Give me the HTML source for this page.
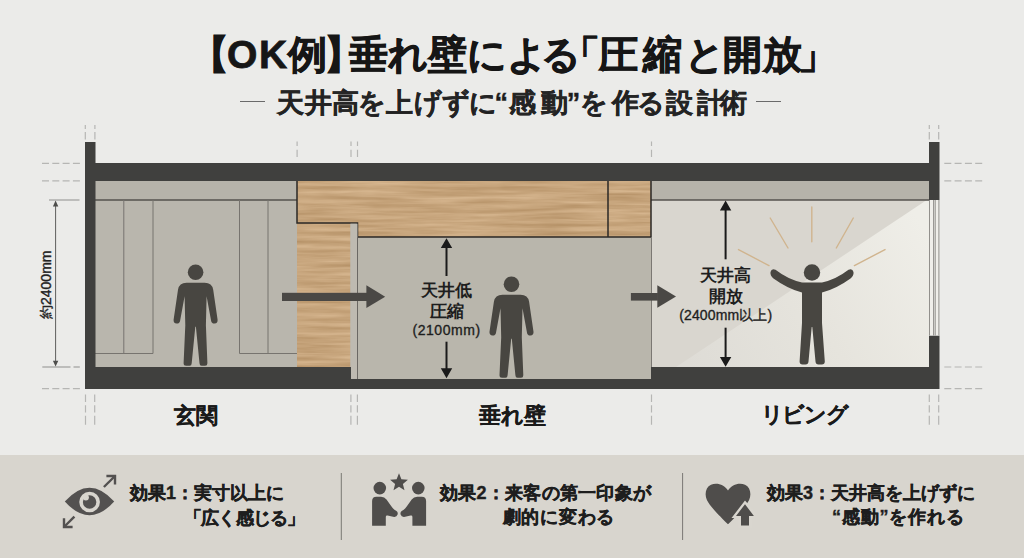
<!DOCTYPE html>
<html lang="ja">
<head>
<meta charset="utf-8">
<style>
html,body{margin:0;padding:0;}
body{width:1024px;height:558px;overflow:hidden;position:relative;background:#ebebe9;font-family:"Liberation Sans",sans-serif;color:#1c1c1c;}
.t{position:absolute;white-space:nowrap;font-weight:bold;line-height:1;}
#title{left:0;width:1024px;top:35px;font-size:39px;height:39px;color:#161616;-webkit-text-stroke:0.8px #161616;}
#title span,#subt span{position:absolute;top:0;}
#sub{left:0;width:1024px;text-align:center;top:93px;font-size:21px;color:#262626;}
svg{position:absolute;left:0;top:0;}
#panel{position:absolute;left:0;top:455px;width:1024px;height:103px;background:#d8d5ce;}
.lbl{font-size:23px;color:#1a1a1a;-webkit-text-stroke:0.25px #1a1a1a;}
.eff{font-size:18px;color:#1e1e1e;-webkit-text-stroke:0.4px #1e1e1e;}
.dim{font-size:17px;color:#1e1e1e;text-align:center;}
.dims{font-size:14px;color:#1e1e1e;text-align:center;font-weight:normal;-webkit-text-stroke:0.35px #1e1e1e;}
</style>
</head>
<body>
<div class="t" id="title"><span style="left:189.6px">【</span><span style="left:227.0px">O</span><span style="left:259.1px">K</span><span style="left:287.8px">例</span><span style="left:324.4px">】</span><span style="left:348.6px">垂</span><span style="left:388.4px">れ</span><span style="left:428.1px">壁</span><span style="left:467.0px">に</span><span style="left:507.2px">よ</span><span style="left:540.7px">る</span><span style="left:560.5px">「</span><span style="left:598.8px">圧</span><span style="left:642.7px">縮</span><span style="left:684.5px">と</span><span style="left:722.8px">開</span><span style="left:762.5px">放</span><span style="left:797.5px">」</span>&nbsp;</div>
<div id="subd1" style="position:absolute;left:240px;top:101px;width:25px;height:1.3px;background:#6a6a6a"></div>
<div id="subd2" style="position:absolute;left:756px;top:101px;width:25px;height:1.3px;background:#6a6a6a"></div>
<div class="t" id="subt" style="left:0;top:90px;font-size:27px;-webkit-text-stroke:0.4px #262626;width:1024px;height:27px;"><span style="left:276.6px">天</span><span style="left:304.7px">井</span><span style="left:331.5px">高</span><span style="left:357.6px">を</span><span style="left:385.5px">上</span><span style="left:414.2px">げ</span><span style="left:441.5px">ず</span><span style="left:468.6px">に</span><span style="left:494.4px">“</span><span style="left:508.7px">感</span><span style="left:541.0px">動</span><span style="left:566.8px">”</span><span style="left:580.4px">を</span><span style="left:611.8px">作</span><span style="left:637.0px">る</span><span style="left:665.5px">設</span><span style="left:696.7px">計</span><span style="left:720.2px">術</span></div>

<svg width="1024" height="558" viewBox="0 0 1024 558">
  <!-- rooms -->
  <rect x="95" y="181" width="202" height="186" fill="#b9b6ad"/>
  <rect x="95" y="181" width="202" height="19" fill="#b6b3aa"/>
  <rect x="297" y="181" width="354" height="198" fill="#b9b6ac"/>
  <defs><linearGradient id="beam" gradientUnits="userSpaceOnUse" x1="925" y1="230" x2="690" y2="367"><stop offset="0" stop-color="#efeee8"/><stop offset="0.5" stop-color="#e6e4dd"/><stop offset="1" stop-color="#dedcd6"/></linearGradient></defs>
  <rect x="651" y="181" width="278" height="186" fill="#d9d6cf"/>
  <polygon points="929,198.5 929,367 676,367" fill="url(#beam)"/>
  <rect x="651" y="181" width="278" height="19" fill="#b6b3aa"/>
  
  <!-- panels in entrance -->
  <g stroke="#55524e" stroke-width="1.4" fill="none">
    <line x1="95" y1="200" x2="297" y2="200"/>
    <line x1="651" y1="200" x2="929" y2="200"/>
  </g>
  <g stroke="#77746f" stroke-width="1" fill="none">
    <line x1="123.8" y1="200" x2="123.8" y2="353.5"/>
    <line x1="153" y1="200" x2="153" y2="353.5"/>
    <line x1="239.5" y1="200" x2="239.5" y2="353.5"/>
    <line x1="268" y1="200" x2="268" y2="353.5"/>
    <line x1="95" y1="353.5" x2="153" y2="353.5"/>
    <line x1="239.5" y1="353.5" x2="297" y2="353.5"/>
  </g>
  <!-- wood -->
  <defs>
    <clipPath id="woodclip"><path d="M297,181 H651 V237 H357.5 V223 H350.5 V367 H297 Z"/></clipPath>
    <filter id="woodf" x="0" y="0" width="100%" height="100%" color-interpolation-filters="sRGB">
      <feTurbulence type="fractalNoise" baseFrequency="0.012 0.22" numOctaves="4" seed="11"/>
      <feColorMatrix type="matrix" values="0.18 0 0 0 0.69  0.20 0 0 0 0.547  0.22 0 0 0 0.378  0 0 0 0 1"/>
    </filter>
  </defs>
  <rect x="297" y="181" width="354" height="186" filter="url(#woodf)" clip-path="url(#woodclip)"/>
  <path d="M297,181 V223 H357.5 V237 H651 V181 M608,181 V237" fill="none" stroke="#2b2926" stroke-width="1.5"/>
    <rect x="350.5" y="223.7" width="7" height="155" fill="#bebab1"/>
  <line x1="357.5" y1="237" x2="357.5" y2="379" stroke="#6b6864" stroke-width="1"/>
  <!-- walls -->
  <path d="M85,142 H95.5 V163 H929 V142 H939.5 V200 H929 V181 H95.5 V367 H351 V379 H651 V367 H929 V335.5 H939.5 V389 H85 Z" fill="#40403e"/>
  <!-- window -->
  <rect x="929" y="200" width="10.5" height="135.5" fill="#f0efeb"/>
  <g stroke="#878581" stroke-width="0.9">
    <line x1="929.5" y1="200" x2="929.5" y2="335.5"/>
    <line x1="933.6" y1="200" x2="933.6" y2="335.5"/>
    <line x1="935.2" y1="200" x2="935.2" y2="335.5"/>
    <line x1="938.9" y1="200" x2="938.9" y2="335.5"/>
  </g>
  <!-- dashed guide lines -->
  <g stroke="#b6b6b4" stroke-width="1.2" fill="none">
    <g stroke-dasharray="7,3.3">
      <line x1="42" y1="163.3" x2="80" y2="163.3"/>
      <line x1="42" y1="180.8" x2="80" y2="180.8"/>
      <line x1="42" y1="388.6" x2="80" y2="388.6"/>
      <line x1="944.3" y1="163.3" x2="982.3" y2="163.3"/>
      <line x1="944.3" y1="180.8" x2="982.3" y2="180.8"/>
      <line x1="944.3" y1="367" x2="982.3" y2="367"/>
      <line x1="944.3" y1="388.6" x2="982.3" y2="388.6"/>
    </g>
    <g stroke-dasharray="4,3,7.5,20">
      <line x1="85.3" y1="125" x2="85.3" y2="139.5"/>
      <line x1="94.9" y1="125" x2="94.9" y2="139.5"/>
      <line x1="929.3" y1="125" x2="929.3" y2="139.5"/>
      <line x1="938.7" y1="125" x2="938.7" y2="139.5"/>
    </g>
    <g stroke-dasharray="4.3,3.9,7.1,20">
      <line x1="297.1" y1="141.6" x2="297.1" y2="157"/>
      <line x1="351" y1="141.6" x2="351" y2="157"/>
      <line x1="357.5" y1="141.6" x2="357.5" y2="157"/>
      <line x1="651.5" y1="141.6" x2="651.5" y2="157"/>
    </g>
    <g stroke-dasharray="7.5,3.4,7.1,3.4,9,20">
      <line x1="85.5" y1="394.4" x2="85.5" y2="425"/>
      <line x1="94.7" y1="394.4" x2="94.7" y2="425"/>
      <line x1="350.9" y1="394.4" x2="350.9" y2="425"/>
      <line x1="357.4" y1="394.4" x2="357.4" y2="425"/>
      <line x1="651.5" y1="394.4" x2="651.5" y2="425"/>
      <line x1="929.3" y1="394.4" x2="929.3" y2="425"/>
      <line x1="938.7" y1="394.4" x2="938.7" y2="425"/>
    </g>
  </g>
  <!-- dimension 2400 -->
  <g stroke="#a5a5a3" stroke-width="1.3" fill="none">
    <line x1="49" y1="200" x2="79.5" y2="200"/>
    <line x1="42.3" y1="367" x2="70.5" y2="367"/>
    <line x1="73.5" y1="367" x2="79.8" y2="367"/>
  </g>
  <line x1="55.6" y1="204" x2="55.6" y2="363" stroke="#5e5e5c" stroke-width="1"/>
  <path d="M55.6,200.5 L52.9,206.5 L58.3,206.5 Z M55.6,366.5 L52.9,360.8 L58.3,360.8 Z" fill="#4e4e4c"/>
  <!-- arrows -->
  <line x1="651.5" y1="237" x2="651.5" y2="367" stroke="#7b7873" stroke-width="1"/>
  <g fill="#4a4845">
    <rect x="282" y="292.8" width="85" height="8.2"/>
    <path d="M366.4,285.3 L385.2,296.8 L366.4,307.9 Z"/>
    <rect x="630.9" y="293" width="27" height="7.6"/>
    <path d="M657.3,285.3 L676,296.4 L657.3,307.7 Z"/>
  </g>
  <!-- vertical dimension arrows -->
  <g stroke="#1a1a1a" stroke-width="2">
    <line x1="446.5" y1="247" x2="446.5" y2="276"/>
    <line x1="446.5" y1="341.7" x2="446.5" y2="369"/>
    <line x1="725.6" y1="209" x2="725.6" y2="259.3"/>
    <line x1="725.6" y1="327.7" x2="725.6" y2="358"/>
  </g>
  <g fill="#1a1a1a">
    <path d="M446.5,238.2 L440.8,248.1 L452.2,248.1 Z M446.5,378.3 L440.8,368.2 L452.2,368.2 Z"/>
    <path d="M725.6,200.6 L719.9,210.5 L731.3,210.5 Z M725.6,366.8 L719.9,356.9 L731.3,356.9 Z"/>
  </g>
  <!-- rays -->
  <g stroke="#d0b48e" stroke-width="1.4" stroke-linecap="round">
    <line x1="738.5" y1="249.6" x2="769" y2="265.6"/>
    <line x1="770.2" y1="218" x2="788" y2="248"/>
    <line x1="811.8" y1="207" x2="811.8" y2="241.8"/>
    <line x1="853.3" y1="218" x2="836.3" y2="248"/>
    <line x1="885" y1="249.6" x2="854.4" y2="265.6"/>
  </g>
  <!-- persons -->
  <g fill="#484641">
    <g transform="translate(195.6,272.2)"><circle cx="0" cy="0" r="7.8"/><path d="M-9,10.5 H9 Q16.5,10.5 17.6,17.5 L22,47.5 Q22.3,51 19,51.3 Q16,51.5 15.5,48.5 L11,24 L10.3,53 L11.8,91 Q11.8,93.5 9.5,93.5 L6,93.5 Q4,93.5 3.9,91 L0.3,54.5 L-0.3,54.5 L-3.9,91 Q-4,93.5 -6,93.5 L-9.5,93.5 Q-12,93.5 -12,91 L-10.3,53 L-11,24 L-15.5,48.5 Q-16,51.5 -19,51.3 Q-22.3,51 -22,47.5 L-17.6,17.5 Q-16.5,10.5 -9,10.5 Z"/></g>
    <g transform="translate(511.5,284.2)"><circle cx="0" cy="0" r="7.8"/><path d="M-9,10.5 H9 Q16.5,10.5 17.6,17.5 L22,47.5 Q22.3,51 19,51.3 Q16,51.5 15.5,48.5 L11,24 L10.3,53 L11.8,91 Q11.8,93.5 9.5,93.5 L6,93.5 Q4,93.5 3.9,91 L0.3,54.5 L-0.3,54.5 L-3.9,91 Q-4,93.5 -6,93.5 L-9.5,93.5 Q-12,93.5 -12,91 L-10.3,53 L-11,24 L-15.5,48.5 Q-16,51.5 -19,51.3 Q-22.3,51 -22,47.5 L-17.6,17.5 Q-16.5,10.5 -9,10.5 Z"/></g>
    <circle cx="812" cy="272.5" r="8.2"/>
    <path d="M802,282.5 Q788,279.5 775.5,269.8 Q771.5,268 770.5,272 Q770,275.5 773.5,278.5 Q788,289 802,292.5 L802,323 L799.6,361.5 Q799.6,364.5 802.5,364.5 L805.5,364.5 Q808.3,364.5 808.5,361.5 L811.7,327 L812.3,327 L815.5,361.5 Q815.7,364.5 818.5,364.5 L821.8,364.5 Q824.8,364.5 824.8,361.5 L822,323 L822,292.5 Q836,289 850.5,278.5 Q854,275.5 853.5,272 Q852.5,268 848.5,269.8 Q836,279.5 822,282.5 Z"/>
  </g>
</svg>




<div class="t dim" id="d1a" style="left:406.6px;top:282px;width:80px;">天井低</div>
<div class="t dim" id="d1b" style="left:406.6px;top:303px;width:80px;">圧縮</div>
<div class="t dims" id="d1c" style="left:396.6px;top:323px;width:100px;letter-spacing:0.55px;">(2100mm)</div>
<div class="t dim" id="d2a" style="left:685.8px;top:267px;width:80px;">天井高</div>
<div class="t dim" id="d2b" style="left:685.8px;top:288px;width:80px;">開放</div>
<div class="t dims" id="d2c" style="left:665.8px;top:308px;width:120px;letter-spacing:0.15px;">(2400mm以上)</div>
<div class="t" id="rot" style="font-size:14px;font-weight:normal;-webkit-text-stroke:0.35px #222;color:#222;transform:rotate(-90deg);transform-origin:0 0;left:39px;top:319px;">約2400mm</div>
<div class="t lbl" id="lbl1" style="left:174px;top:404.5px;font-size:22px;letter-spacing:-0.5px;">玄関</div>
<div class="t lbl" id="lbl2" style="left:479px;top:404.5px;font-size:22px;letter-spacing:0px;">垂れ壁</div>
<div class="t lbl" id="lbl3" style="left:760.5px;top:404px;font-size:22px;letter-spacing:-1.2px;">リビング</div>
<div id="panel"></div>
<svg width="1024" height="558" viewBox="0 0 1024 558">
  <g stroke="#7a7874" stroke-width="1">
    <line x1="341.3" y1="473" x2="341.3" y2="540"/>
    <line x1="682.6" y1="473" x2="682.6" y2="540"/>
  </g>
  <!-- eye -->
  <g fill="#535150">
    <path d="M64.8,501.5 Q89.5,474 114.2,501.5 Q89.5,529 64.8,501.5 Z"/>
  </g>
  <circle cx="89.6" cy="502" r="8.55" fill="none" stroke="#d8d5ce" stroke-width="3.6"/>
  <circle cx="85.9" cy="497.6" r="3" fill="#d8d5ce"/>
  <g stroke="#535150" stroke-width="2.4" fill="none" stroke-linecap="butt">
    <line x1="103.9" y1="487" x2="114" y2="477"/>
    <polyline points="106.4,476 115,476 115,484.5"/>
    <line x1="74.4" y1="516.7" x2="65" y2="526"/>
    <polyline points="64,518.3 64,527 72.6,527"/>
  </g>
  <!-- handshake -->
  <g fill="#4f4d4b">
    <circle cx="379.8" cy="488.1" r="6.3"/>
    <circle cx="418.3" cy="488.1" r="6.3"/>
    <path d="M399.0,473.2 L401.4,479.3 L407.9,479.7 L402.9,483.9 L404.5,490.2 L399.0,486.7 L393.5,490.2 L395.1,483.9 L390.1,479.7 L396.6,479.3 Z"/>
    <path d="M372.1,525.7 V501 Q372.1,496.7 376.5,496.7 H381 Q384.5,496.7 386.5,499.5 L391.5,506.5 Q393.5,509.5 396.5,510.9 Q398.2,512.2 397.6,514.6 Q396.8,517 394.2,516.9 L387.6,515.6 Q385.8,515.2 385.8,517 V525.7 Z"/>
    <path d="M426.1,525.7 V501 Q426.1,496.7 421.7,496.7 H417.2 Q413.7,496.7 411.7,499.5 L406.7,506.5 Q404.7,509.5 401.7,510.9 Q400,512.2 400.6,514.6 Q401.4,517 404,516.9 L410.6,515.6 Q412.4,515.2 412.4,517 V525.7 Z"/>
  </g>
  <!-- heart -->
  <path d="M728,490.6 C724.5,484.5 716.5,482.3 711,484.8 C705.5,487.3 704.3,494.5 707,500.3 C710,506.5 722,518.5 728,524.2 C734,518.5 746,506.5 749,500.3 C751.7,494.5 750.5,487.3 745,484.8 C739.5,482.3 731.5,484.5 728,490.6 Z" fill="#4f4d4b"/>
  <path d="M745,500.5 L757.5,515 L752,515 L752,528 L738.5,528 L738.5,518 L731.5,518 Z" fill="#d9d6cf"/>
  <path d="M745,504.2 L753.9,516 L749,516 L749,525.6 L741,525.6 L741,516 L736,516 Z" fill="#4f4d4b"/>
</svg>

<div class="t eff" id="e1a" style="left:130px;top:484px;">効果1：実寸以上に</div>
<div class="t eff" id="e1b" style="left:184px;top:509px;letter-spacing:-0.8px;">「広く感じる」</div>
<div class="t eff" id="e2a" style="left:440px;top:484px;letter-spacing:0.27px;">効果2：来客の第一印象が</div>
<div class="t eff" id="e2b" style="left:502.5px;top:508px;letter-spacing:0.8px;">劇的に変わる</div>
<div class="t eff" id="e3a" style="left:767px;top:484px;">効果3：天井高を上げずに</div>
<div class="t eff" id="e3b" style="left:832px;top:508px;letter-spacing:0.85px;">“感動”を作れる</div>
</body>
</html>
